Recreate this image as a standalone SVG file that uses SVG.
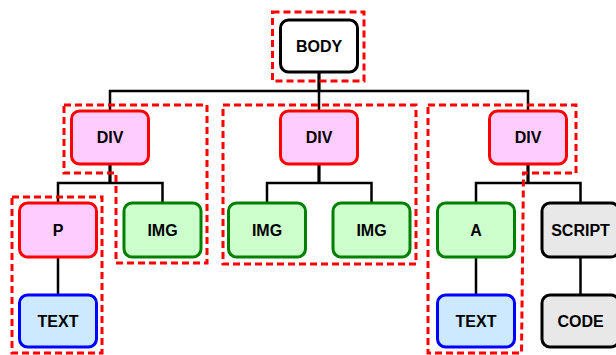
<svg xmlns="http://www.w3.org/2000/svg" width="616" height="355" viewBox="0 0 616 355">
  <style>
    .box { stroke-width: 3; }
    .plain { fill: #ffffff; stroke: #000000; }
    .div { fill: #ffccff; stroke: #ff0000; }
    .img { fill: #ccffcc; stroke: #008000; }
    .txt { fill: #cce9ff; stroke: #0000ff; }
    .code { fill: #e8e8e8; stroke: #000000; }
    .label { font-family: "Liberation Sans", Arial, sans-serif; font-weight: bold; font-size: 16px; fill: #000000; text-anchor: middle; }
    .link { fill: none; stroke: #000000; stroke-width: 2.5; }
    .stem { fill: none; stroke: #000000; stroke-width: 3.2; }
    .group { fill: none; stroke: #ff0000; stroke-width: 3; stroke-dasharray: 7 4; }
  </style>

  <!-- tree connectors -->
  <g id="connectors">
    <path class="stem" d="M319,72 V91"/>
    <path class="link" d="M110,111 V91 H528 V111 M319,91 V111"/>
    <path class="stem" d="M110,164 V183"/>
    <path class="link" d="M58,203 V183 H162.5 V203"/>
    <path class="stem" d="M319,164 V183"/>
    <path class="link" d="M267,203 V183 H371.5 V203"/>
    <path class="stem" d="M528,164 V183"/>
    <path class="link" d="M476,203 V183 H580.5 V203"/>
    <path class="link" d="M58,257 V295 M476,257 V295 M580.5,257 V295"/>
  </g>

  <!-- nodes -->
  <g id="body">
    <rect class="box plain" x="280.5" y="20" width="77" height="52" rx="8"/>
    <text class="label" x="319" y="52">BODY</text>
  </g>
  <g id="div1">
    <rect class="box div" x="71.5" y="111" width="77" height="53" rx="8"/>
    <text class="label" x="110" y="143">DIV</text>
  </g>
  <g id="div2">
    <rect class="box div" x="280.5" y="111" width="77" height="53" rx="8"/>
    <text class="label" x="319" y="143">DIV</text>
  </g>
  <g id="div3">
    <rect class="box div" x="489.5" y="111" width="77" height="53" rx="8"/>
    <text class="label" x="528" y="143">DIV</text>
  </g>
  <g id="p">
    <rect class="box div" x="19.5" y="203" width="77" height="54" rx="8"/>
    <text class="label" x="58" y="235.5">P</text>
  </g>
  <g id="img1">
    <rect class="box img" x="124" y="203" width="77" height="54" rx="8"/>
    <text class="label" x="162.5" y="235.5">IMG</text>
  </g>
  <g id="img2">
    <rect class="box img" x="228.5" y="203" width="77" height="54" rx="8"/>
    <text class="label" x="267" y="235.5">IMG</text>
  </g>
  <g id="img3">
    <rect class="box img" x="333" y="203" width="77" height="54" rx="8"/>
    <text class="label" x="371.5" y="235.5">IMG</text>
  </g>
  <g id="a">
    <rect class="box img" x="437.5" y="203" width="77" height="54" rx="8"/>
    <text class="label" x="476" y="235.5">A</text>
  </g>
  <g id="script">
    <rect class="box code" x="542" y="203" width="77" height="54" rx="8"/>
    <text class="label" x="580.5" y="235.5">SCRIPT</text>
  </g>
  <g id="text1">
    <rect class="box txt" x="19.5" y="295" width="77" height="52" rx="8"/>
    <text class="label" x="58" y="327">TEXT</text>
  </g>
  <g id="text2">
    <rect class="box txt" x="437.5" y="295" width="77" height="52" rx="8"/>
    <text class="label" x="476" y="327">TEXT</text>
  </g>
  <g id="code">
    <rect class="box code" x="542" y="295" width="77" height="52" rx="8"/>
    <text class="label" x="580.5" y="327">CODE</text>
  </g>

  <!-- dashed groupings -->
  <g id="groups">
    <rect class="group" x="272.5" y="12" width="91.5" height="69"/>
    <path class="group" d="M64,105 H207 V263 H116 V173 H64 Z"/>
    <rect class="group" x="223" y="105" width="193" height="159"/>
    <path class="group" d="M428,105 H576 V173 H523.5 L521.5,353 H428 Z"/>
    <rect class="group" x="12" y="197" width="90" height="156"/>
  </g>
</svg>
